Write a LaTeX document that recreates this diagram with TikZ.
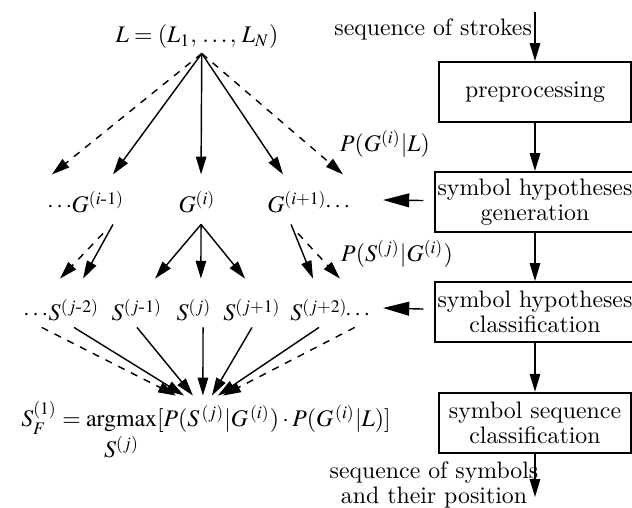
\documentclass[tikz,border=0pt]{standalone}
\usepackage{amsmath}
\usepackage{mathptmx}
\usetikzlibrary{arrows.meta, positioning}

\begin{document}
\begin{tikzpicture}[
  x=0.42pt, y=-0.42pt,
  node distance = 20.2pt,
  stage/.style  = {rectangle, draw, line width=0.8pt, minimum width=80.6pt,
                   minimum height=25.2pt, align=center, inner sep=1pt,
                   font=\fontsize{10}{10.5}\selectfont},
  gsym/.style   = {anchor=base, inner sep=0pt, text height=16pt, text depth=4.6pt},
  ssym/.style   = {anchor=base, inner sep=0pt, text height=17.6pt, text depth=2.5pt},
  arr/.style    = {-{Triangle[length=7.5pt, width=4.4pt]}, line width=0.6pt},
  darr/.style   = {arr, dash pattern=on 3pt off 3pt},
  bigarr/.style = {-{Triangle[length=11pt, width=5.8pt]}, line width=0.6pt},
]
\useasboundingbox (0,0) rectangle (632,508);
% Top: the stroke sequence
\node[anchor=base, inner sep=0pt, text depth=4.2pt] (L) at (197,43) {$L = (L_1,\, \ldots,\, L_N)$};
% Row 1: group hypotheses
\node[gsym] (dGl) at (61,213)  {$\cdots$};
\node[gsym] (Gm)  at (98,213)  {$G^{(i\text{-}1)}$};
\node[gsym] (G0)  at (197,213) {$G^{(i)}$};
\node[gsym] (Gp)  at (297,213) {$G^{(i+1)}$};
\node[gsym] (dGr) at (339,213) {$\cdots$};
% Row 2: symbol hypotheses
\node[ssym] (dSl) at (37,321)  {$\cdots$};
\node[ssym] (Sm2) at (74,321)  {$S^{(j\text{-}2)}$};
\node[ssym] (Sm1) at (137,321) {$S^{(j\text{-}1)}$};
\node[ssym] (S0)  at (194,321) {$S^{(j)}$};
\node[ssym] (Sp1) at (252,321) {$S^{(j+1)}$};
\node[ssym] (Sp2) at (319,321) {$S^{(j+2)}$};
\node[ssym] (dSr) at (359,321) {$\cdots$};
% Result
\node[anchor=base, inner sep=0pt, text height=13pt] (res) at (206,427)
  {$S_F^{(1)} = \mathop{\mathrm{argmax}}\limits_{\textstyle S^{(j)}} [P(S^{\,(j)}|G^{\,(i)})\cdot P(G^{\,(i)}|L)]$};
% Probabilities
\node[anchor=base] (pgl) at (385,152) {$P(G^{(i)}|L)$};
\node[anchor=base] (psg) at (397,262) {$P(S^{(j)}|G^{(i)})$};
% Right column: processing stages
\node[stage]              (pre) at (535,92) {preprocessing};
\node[stage, below=of pre] (gen) {symbol hypotheses\\generation};
\node[stage, below=of gen] (cls) {symbol hypotheses\\classification};
\node[stage, below=20.5pt of cls] (seq) {symbol sequence\\classification};
\coordinate (in)   at (535,12);
\coordinate (out)  at (535,497);
\coordinate (gtip) at (383,200);
\coordinate (ctip) at (383,308);
\node[align=center, font=\fontsize{10}{10.5}\selectfont] (outlbl) at (434,485)
  {sequence of symbols\\and their position};
% Arrows: stages
\draw[arr] (in) -- node[pos=0.35, left, inner sep=1pt] (inlbl) {sequence of strokes} (pre);
\draw[arr] (pre) -- (gen);
\draw[arr] (gen) -- (cls);
\draw[arr] (cls) -- (seq);
\draw[arr] (seq) -- (out);
\draw[bigarr, shorten <=4.6pt] (gen) -- (gtip);
\draw[bigarr, shorten <=4.6pt] (cls) -- (ctip);
% Arrows: L to groups
\draw[darr] ([xshift=2pt]L.south) -- ([xshift=-3.8pt]dGl.north);
\draw[arr]  ([xshift=2pt]L.south) -- ([xshift=6.3pt]Gm.north);
\draw[arr]  ([xshift=2pt]L.south) -- ([xshift=1.7pt]G0.north);
\draw[arr]  ([xshift=2pt]L.south) -- ([xshift=-5.9pt]Gp.north);
\draw[darr] ([xshift=2pt]L.south) -- ([xshift=1.7pt]dGr.north);
% Arrows: groups to symbols
\draw[arr]  ([xshift=6.3pt]Gm.south) -- ([xshift=3.8pt]Sm2.north);
\draw[darr] ([xshift=2.1pt, yshift=-3.8pt]Gm.south) -- ([xshift=-5.9pt]Sm2.north);
\draw[arr]  ([xshift=1.7pt]G0.south) -- ([xshift=7.6pt]Sm1.north);
\draw[arr]  ([xshift=1.7pt]G0.south) -- ([xshift=2.9pt]S0.north);
\draw[arr]  ([xshift=1.7pt]G0.south) -- ([xshift=-2.9pt]Sp1.north);
\draw[arr]  ([xshift=-2.5pt]Gp.south) -- ([xshift=-2.5pt]Sp2.north);
\draw[darr] ([xshift=0.4pt, yshift=-3.8pt]Gp.south) -- ([xshift=8.8pt]Sp2.north);
% Arrows: symbols to result
\draw[darr] ([xshift=2pt]dSl.south) -- ([xshift=-12.6pt]res.north);
\draw[arr]  (Sm2.south) -- ([xshift=-9.2pt]res.north);
\draw[arr]  (Sm1.south) -- ([xshift=-5.5pt]res.north);
\draw[arr]  ([xshift=3.8pt]S0.south) -- ([xshift=-1.3pt]res.north);
\draw[arr]  (Sp1.south) -- ([xshift=2.5pt]res.north);
\draw[arr]  (Sp2.south) -- ([xshift=5pt]res.north);
\draw[darr] ([xshift=-1.8pt]dSr.south) -- ([xshift=7.1pt]res.north);
\end{tikzpicture}
\end{document}
